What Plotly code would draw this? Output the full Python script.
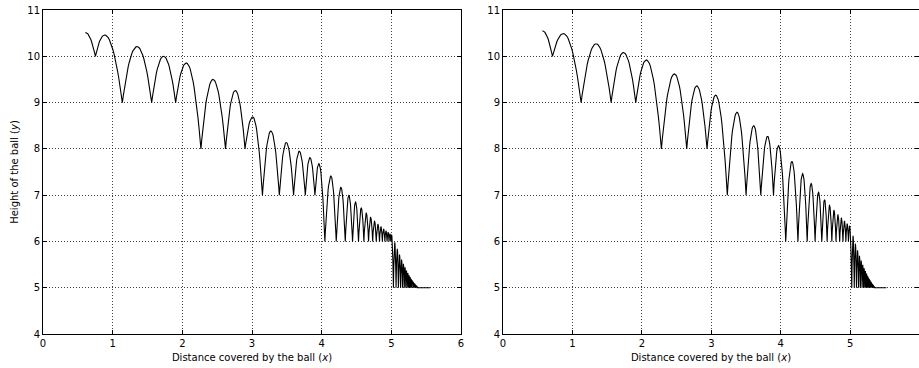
import numpy as np
import plotly.graph_objects as go

# ---------------- data ----------------
# Left panel: landing (bounce) points, arc apexes, end of final rolling
left_bounce_x = [0.608, 0.752, 1.139, 1.56, 1.904, 2.267, 2.62, 2.90, 3.15, 3.392,
                 3.597, 3.765, 3.903, 4.046, 4.209, 4.339, 4.443, 4.529, 4.606, 4.673,
                 4.732, 4.784, 4.830, 4.871, 4.907, 4.939, 4.967, 4.992,
                 5.030, 5.068, 5.102, 5.133, 5.161, 5.186, 5.208, 5.228, 5.247, 5.263,
                 5.277, 5.291, 5.303, 5.313, 5.323, 5.332, 5.340, 5.347, 5.353, 5.359,
                 5.364, 5.369, 5.373]
left_bounce_y = [10.515, 10, 9, 9, 9, 8, 8, 8, 7, 7, 7, 7, 7] + [6] * 15 + [5] * 23
left_peak_x = [0.608, 0.885, 1.349, 1.73, 2.057, 2.44, 2.76, 3.01, 3.271, 3.492,
               3.678, 3.831, 3.96, 4.132, 4.276, 4.39, 4.486, 4.568, 4.64, 4.7025,
               4.758, 4.807, 4.8505, 4.889, 4.923, 4.953, 4.9795, 5.003,
               5.049, 5.085, 5.1175, 5.147, 5.1735, 5.197, 5.218, 5.2375, 5.255, 5.270,
               5.284, 5.297, 5.308, 5.318, 5.3275, 5.336, 5.3435, 5.350, 5.356, 5.3615,
               5.3665, 5.371]
left_peak_y = [10.515, 10.46, 10.21, 10.0, 9.856, 9.5, 9.26, 8.69, 8.385, 8.137,
               7.949, 7.81, 7.68, 7.413, 7.167, 6.993, 6.85, 6.72, 6.61, 6.52,
               6.44, 6.375, 6.32, 6.27, 6.23, 6.20, 6.17, 6.145,
               5.98, 5.84, 5.715, 5.608, 5.517, 5.439, 5.373, 5.317, 5.270, 5.229,
               5.195, 5.166, 5.141, 5.120, 5.102, 5.087, 5.074, 5.063, 5.053, 5.045,
               5.039, 5.033]
left_roll_end = 5.557

# Right panel
right_bounce_x = [0.568, 0.712, 1.125, 1.557, 1.912, 2.281, 2.646, 2.938, 3.23, 3.50,
                  3.712, 3.895, 4.071, 4.247, 4.38, 4.494, 4.59, 4.667, 4.735, 4.795,
                  4.848, 4.895, 4.937, 4.974,
                  5.022, 5.058, 5.090, 5.120, 5.146, 5.170, 5.191, 5.210, 5.227, 5.243,
                  5.256, 5.269, 5.280, 5.291, 5.300, 5.308, 5.315, 5.322, 5.328, 5.333,
                  5.338, 5.343, 5.347]
right_bounce_y = [10.55, 10, 9, 9, 9, 8, 8, 8, 7, 7, 7, 7] + [6] * 12 + [5] * 23
right_peak_x = [0.568, 0.87, 1.341, 1.734, 2.065, 2.468, 2.79, 3.063, 3.37, 3.61,
                3.81, 3.966, 4.16, 4.314, 4.437, 4.543, 4.63, 4.701, 4.765, 4.8215,
                4.8715, 4.916, 4.9555, 4.99,
                5.040, 5.074, 5.105, 5.133, 5.158, 5.1805, 5.2005, 5.2185, 5.235, 5.2495,
                5.2625, 5.2745, 5.2855, 5.2955, 5.304, 5.3115, 5.3185, 5.325, 5.3305, 5.3355,
                5.3405, 5.345]
right_peak_y = [10.55, 10.49, 10.27, 10.08, 9.92, 9.62, 9.36, 9.16, 8.79, 8.5,
                8.27, 8.07, 7.73, 7.465, 7.25, 7.06, 6.9, 6.78, 6.67, 6.58,
                6.51, 6.44, 6.385, 6.335,
                6.12, 5.952, 5.809, 5.688, 5.585, 5.497, 5.422, 5.359, 5.305, 5.259,
                5.221, 5.188, 5.159, 5.136, 5.115, 5.098, 5.083, 5.071, 5.060, 5.051,
                5.043, 5.037]
right_roll_end = 5.52

x_ticks = [0, 1, 2, 3, 4, 5, 6]
y_ticks = [4, 5, 6, 7, 8, 9, 10, 11]
x_title = "Distance covered by the ball (<i>x</i>)"
y_title = "Height of the ball (<i>y</i>)"


def trajectory(bx, by, px, py, roll_end, n=16):
    xs, ys = [], []
    for i in range(len(px)):
        x0, y0 = bx[i], by[i]
        x1, y1 = bx[i + 1], by[i + 1]
        xp, yp = px[i], py[i]
        if xp > x0:
            x = np.linspace(x0, xp, n)
            y = yp - (yp - y0) * ((x - xp) / (x0 - xp)) ** 2
            xs.extend(x.tolist()); ys.extend(y.tolist())
        x = np.linspace(xp, x1, n)
        y = yp - (yp - y1) * ((x - xp) / (x1 - xp)) ** 2
        xs.extend(x.tolist()); ys.extend(y.tolist())
    xs.extend([bx[-1], roll_end]); ys.extend([by[-1], by[-1]])
    return xs, ys


lx, ly = trajectory(left_bounce_x, left_bounce_y, left_peak_x, left_peak_y, left_roll_end)
rx, ry = trajectory(right_bounce_x, right_bounce_y, right_peak_x, right_peak_y, right_roll_end)

fig = go.Figure()
fig.add_trace(go.Scatter(x=lx, y=ly, mode="lines", line=dict(color="black", width=1.1),
                         xaxis="x", yaxis="y", showlegend=False, hoverinfo="skip"))
fig.add_trace(go.Scatter(x=rx, y=ry, mode="lines", line=dict(color="black", width=1.1),
                         xaxis="x2", yaxis="y2", showlegend=False, hoverinfo="skip"))

W, H = 919, 368
ml, mr, mt, mb = 43, 0, 10, 34
pw = W - ml - mr
font = dict(family="DejaVu Sans", size=10, color="black")

axis_common = dict(showline=True, linecolor="black", linewidth=1, mirror="ticks",
                   ticks="inside", ticklen=4, tickcolor="black", tickwidth=1,
                   showgrid=True, gridcolor="rgba(0,0,0,0.75)", gridwidth=0.6,
                   griddash="1px,2px", zeroline=False, tickfont=font, automargin=False)

fig.update_layout(
    width=W, height=H,
    margin=dict(l=ml, r=mr, t=mt, b=mb),
    paper_bgcolor="white", plot_bgcolor="white",
    font=font,
    xaxis=dict(domain=[0, (461 - ml) / pw], range=[0, 6], tickvals=x_ticks,
               title=dict(text=x_title, font=font, standoff=5), anchor="y", **axis_common),
    yaxis=dict(domain=[0, 1], range=[4, 11], tickvals=y_ticks,
               title=dict(text=y_title, font=font, standoff=6), anchor="x", **axis_common),
    xaxis2=dict(domain=[(503 - ml) / pw, 1], range=[0, 5.99], tickvals=x_ticks,
                title=dict(text=x_title, font=font, standoff=5), anchor="y2", **axis_common),
    yaxis2=dict(domain=[0, 1], range=[4, 11], tickvals=y_ticks, anchor="x2", **axis_common),
)

fig.write_html("out.html", config={"displayModeBar": False},
               post_script="document.body.style.margin='0';document.body.style.overflow='hidden';")
